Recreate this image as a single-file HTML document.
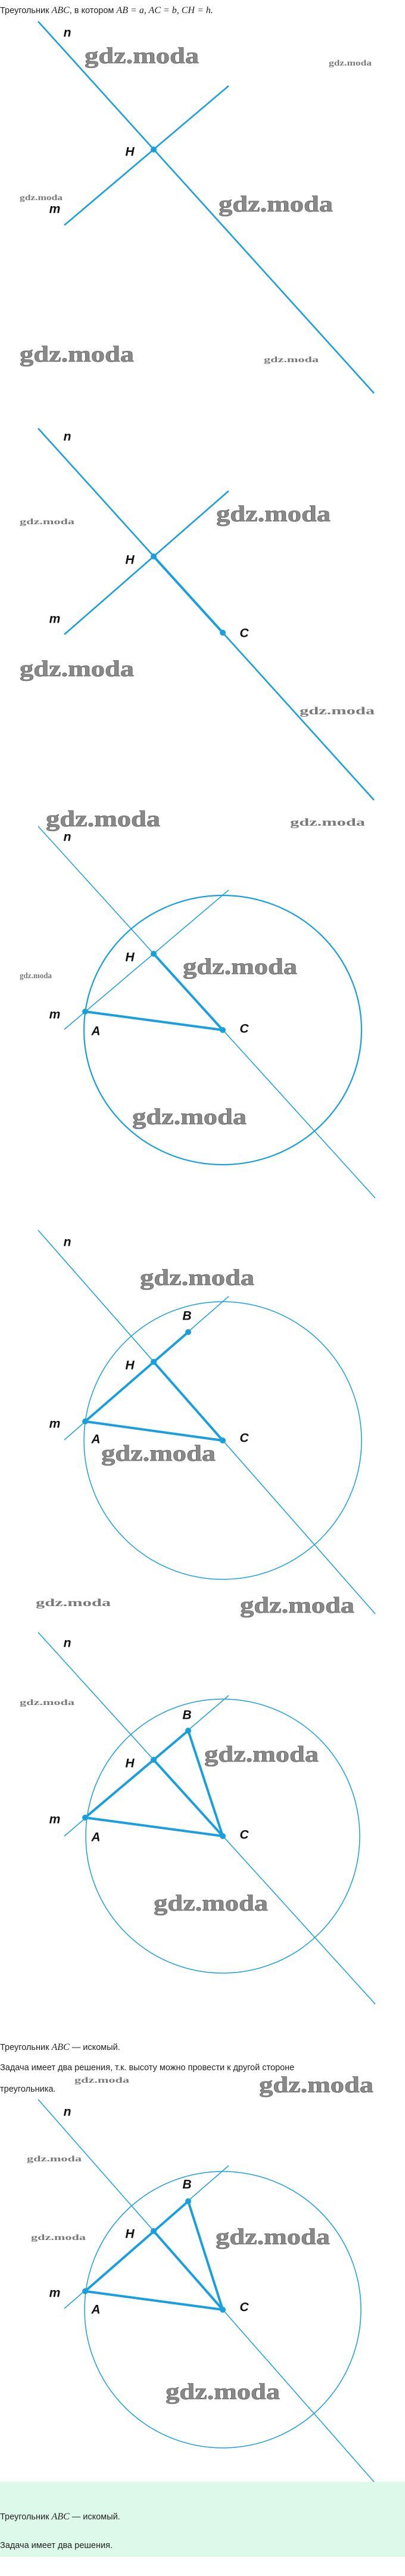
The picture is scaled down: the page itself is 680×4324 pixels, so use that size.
<!DOCTYPE html>
<html><head><meta charset="utf-8"><style>
html,body{margin:0;padding:0;background:#fff;}
svg{display:block;}
.t{font-family:"Liberation Sans",sans-serif;font-size:14.5px;fill:#222;}
.mth{font-family:"Liberation Serif",serif;font-style:italic;font-size:16px;}
.lb{font-family:"Liberation Sans",sans-serif;font-style:italic;font-weight:bold;font-size:21px;fill:#111;text-anchor:middle;dominant-baseline:central;}
.wL{font-family:"Liberation Serif",serif;font-weight:bold;font-size:38px;fill:#8a8a8a;stroke:#555;stroke-width:0.6;}
.wS{font-family:"Liberation Serif",serif;font-weight:bold;font-size:14px;fill:#7a7a7a;}
.wM{font-family:"Liberation Serif",serif;font-weight:bold;font-size:18px;fill:#7a7a7a;}
.thk{stroke:#1a9fde;stroke-width:2.6;fill:none;}
.thn{stroke:#1a9fde;stroke-width:1.5;fill:none;}
.seg{stroke:#1a9fde;stroke-width:4;fill:none;stroke-linecap:round;}
.dot{fill:#1a9fde;}
</style></head><body>
<svg width="680" height="4324" viewBox="0 0 680 4324" xmlns="http://www.w3.org/2000/svg">
<rect x="0" y="4166" width="680" height="126" fill="#dcf9ea"/>
<text class="t" x="0" y="22">Треугольник <tspan class="mth">ABC</tspan>, в котором <tspan class="mth">AB = a,  AC = b,  CH = h.</tspan></text>

<!-- Panel 1 -->
<g transform="translate(258,251)">
<line class="thk" x1="-194" y1="-215" x2="370" y2="409"/>
<line class="thk" x1="-150" y1="127" x2="126" y2="-107"/>
<circle class="dot" r="5"/>
<text class="lb" x="-145" y="-196">n</text><text class="lb" x="-40" y="4">H</text><text class="lb" x="-166" y="100">m</text>
</g>

<!-- Panel 2 -->
<g transform="translate(258,934)">
<line class="thk" x1="-194" y1="-215" x2="370" y2="409"/>
<line class="thk" x1="-150" y1="131" x2="126" y2="-110"/>
<line class="seg" x1="0" y1="0" x2="116" y2="128"/>
<circle class="dot" r="5"/><circle class="dot" cx="116" cy="128" r="5"/>
<text class="lb" x="-145" y="-201">n</text><text class="lb" x="-40" y="6">H</text><text class="lb" x="-166" y="105">m</text><text class="lb" x="152" y="129">C</text>
</g>

<!-- Panel 3 -->
<g transform="translate(258,1601)">
<line class="thn" x1="-194" y1="-214" x2="372" y2="410"/>
<line class="thn" x1="-150" y1="127" x2="126" y2="-107"/>
<ellipse class="thn" style="stroke-width:2.2" cx="116" cy="128" rx="233" ry="226"/>
<line class="seg" x1="0" y1="0" x2="116" y2="128"/>
<line class="seg" x1="-115" y1="97" x2="116" y2="128"/>
<circle class="dot" r="5"/><circle class="dot" cx="116" cy="128" r="5"/><circle class="dot" cx="-115" cy="97" r="5"/>
<text class="lb" x="-145" y="-196">n</text><text class="lb" x="-40" y="6">H</text><text class="lb" x="-166" y="102">m</text><text class="lb" x="152" y="126">C</text><text class="lb" x="-97" y="130">A</text>
</g>

<!-- Panel 4 -->
<g transform="translate(258,2286)">
<line class="thn" x1="-194" y1="-221" x2="372" y2="423"/>
<line class="thn" x1="-150" y1="131" x2="126" y2="-110"/>
<circle class="thn" cx="116" cy="132" r="233"/>
<line class="seg" x1="0" y1="0" x2="116" y2="132"/>
<line class="seg" x1="-115" y1="100" x2="116" y2="132"/>
<line class="seg" x1="-115" y1="100" x2="58" y2="-50"/>
<circle class="dot" r="5"/><circle class="dot" cx="116" cy="132" r="5"/><circle class="dot" cx="-115" cy="100" r="5"/><circle class="dot" cx="58" cy="-50" r="5"/>
<text class="lb" x="-145" y="-201">n</text><text class="lb" x="-40" y="6">H</text><text class="lb" x="-166" y="104">m</text><text class="lb" x="152" y="128">C</text><text class="lb" x="-97" y="130">A</text><text class="lb" x="56" y="-77">B</text>
</g>

<!-- Panel 5 -->
<g transform="translate(258,2954)">
<line class="thn" x1="-194" y1="-214" x2="372" y2="410"/>
<line class="thn" x1="-150" y1="128" x2="126" y2="-108"/>
<circle class="thn" cx="116" cy="128" r="230"/>
<line class="seg" x1="0" y1="0" x2="116" y2="128"/>
<line class="seg" x1="-115" y1="97" x2="116" y2="128"/>
<line class="seg" x1="-115" y1="97" x2="58" y2="-49"/>
<line class="seg" x1="58" y1="-49" x2="116" y2="128"/>
<circle class="dot" r="5"/><circle class="dot" cx="116" cy="128" r="5"/><circle class="dot" cx="-115" cy="97" r="5"/><circle class="dot" cx="58" cy="-49" r="5"/>
<text class="lb" x="-145" y="-196">n</text><text class="lb" x="-40" y="6">H</text><text class="lb" x="-166" y="100">m</text><text class="lb" x="152" y="126">C</text><text class="lb" x="-97" y="130">A</text><text class="lb" x="56" y="-75">B</text>
</g>

<text class="t" x="0" y="3441">Треугольник <tspan class="mth">ABC</tspan> — искомый.</text>
<text class="t" x="0" y="3475">Задача имеет два решения, т.к. высоту можно провести к другой стороне</text>
<text class="t" x="0" y="3511">треугольника.</text>

<!-- Panel 6 -->
<g transform="translate(258,3745)">
<line class="thn" x1="-194" y1="-221" x2="370" y2="421"/>
<line class="thn" x1="-150" y1="130" x2="126" y2="-110"/>
<circle class="thn" cx="116" cy="132" r="232"/>
<line class="seg" x1="0" y1="0" x2="116" y2="132"/>
<line class="seg" x1="-115" y1="101" x2="116" y2="132"/>
<line class="seg" x1="-115" y1="101" x2="58" y2="-50"/>
<line class="seg" x1="58" y1="-50" x2="116" y2="132"/>
<circle class="dot" r="5"/><circle class="dot" cx="116" cy="132" r="5"/><circle class="dot" cx="-115" cy="101" r="5"/><circle class="dot" cx="58" cy="-50" r="5"/>
<text class="lb" x="-145" y="-200">n</text><text class="lb" x="-40" y="5">H</text><text class="lb" x="-166" y="104">m</text><text class="lb" x="152" y="128">C</text><text class="lb" x="-97" y="132">A</text><text class="lb" x="56" y="-78">B</text>
</g>

<text class="t" x="0" y="4229">Треугольник <tspan class="mth">ABC</tspan> — искомый.</text>
<text class="t" x="0" y="4277">Задача имеет два решения.</text>

<!-- watermarks -->
<g lengthAdjust="spacingAndGlyphs">
<text class="wL" x="142" y="106" textLength="192" lengthAdjust="spacingAndGlyphs">gdz.moda</text>
<text class="wS" x="552" y="110" textLength="72" lengthAdjust="spacingAndGlyphs">gdz.moda</text>
<text class="wS" x="33" y="336" textLength="72" lengthAdjust="spacingAndGlyphs">gdz.moda</text>
<text class="wL" x="367" y="355" textLength="192" lengthAdjust="spacingAndGlyphs">gdz.moda</text>
<text class="wL" x="33" y="607" textLength="192" lengthAdjust="spacingAndGlyphs">gdz.moda</text>
<text class="wS" x="443" y="608" textLength="92" lengthAdjust="spacingAndGlyphs">gdz.moda</text>

<text class="wS" x="33" y="880" textLength="92" lengthAdjust="spacingAndGlyphs">gdz.moda</text>
<text class="wL" x="363" y="875" textLength="192" lengthAdjust="spacingAndGlyphs">gdz.moda</text>
<text class="wL" x="33" y="1135" textLength="192" lengthAdjust="spacingAndGlyphs">gdz.moda</text>
<text class="wM" x="503" y="1199" textLength="126" lengthAdjust="spacingAndGlyphs">gdz.moda</text>

<text class="wL" x="77" y="1387" textLength="192" lengthAdjust="spacingAndGlyphs">gdz.moda</text>
<text class="wM" x="487" y="1386" textLength="126" lengthAdjust="spacingAndGlyphs">gdz.moda</text>
<text class="wS" x="33" y="1642" textLength="54" lengthAdjust="spacingAndGlyphs">gdz.moda</text>
<text class="wL" x="307" y="1635" textLength="192" lengthAdjust="spacingAndGlyphs">gdz.moda</text>
<text class="wL" x="222" y="1887" textLength="192" lengthAdjust="spacingAndGlyphs">gdz.moda</text>

<text class="wL" x="235" y="2157" textLength="192" lengthAdjust="spacingAndGlyphs">gdz.moda</text>
<text class="wL" x="170" y="2452" textLength="192" lengthAdjust="spacingAndGlyphs">gdz.moda</text>

<text class="wM" x="60" y="2696" textLength="126" lengthAdjust="spacingAndGlyphs">gdz.moda</text>
<text class="wL" x="403" y="2707" textLength="192" lengthAdjust="spacingAndGlyphs">gdz.moda</text>
<text class="wS" x="33" y="2862" textLength="92" lengthAdjust="spacingAndGlyphs">gdz.moda</text>
<text class="wL" x="343" y="2957" textLength="192" lengthAdjust="spacingAndGlyphs">gdz.moda</text>
<text class="wL" x="258" y="3207" textLength="192" lengthAdjust="spacingAndGlyphs">gdz.moda</text>

<text class="wS" x="125" y="3496" textLength="92" lengthAdjust="spacingAndGlyphs">gdz.moda</text>
<text class="wL" x="435" y="3512" textLength="192" lengthAdjust="spacingAndGlyphs">gdz.moda</text>
<text class="wS" x="45" y="3628" textLength="92" lengthAdjust="spacingAndGlyphs">gdz.moda</text>
<text class="wS" x="52" y="3760" textLength="92" lengthAdjust="spacingAndGlyphs">gdz.moda</text>
<text class="wL" x="362" y="3767" textLength="192" lengthAdjust="spacingAndGlyphs">gdz.moda</text>
<text class="wL" x="278" y="4027" textLength="192" lengthAdjust="spacingAndGlyphs">gdz.moda</text>
</g>
</svg>
</body></html>
